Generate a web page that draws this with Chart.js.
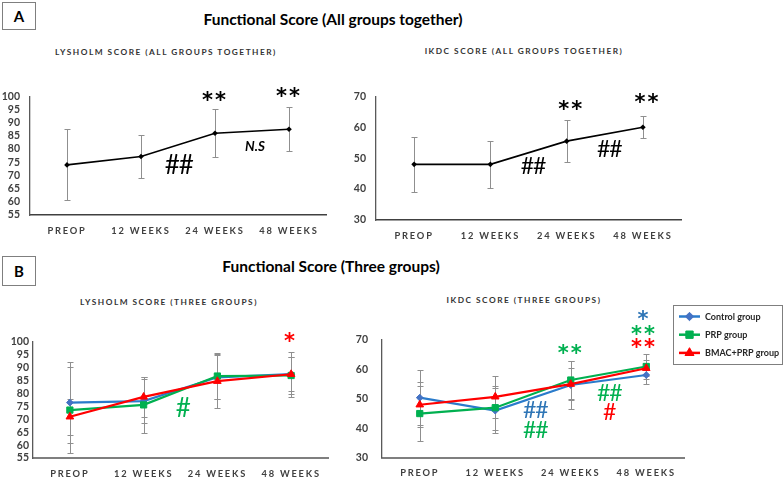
<!DOCTYPE html>
<html><head><meta charset="utf-8">
<script src="https://cdn.jsdelivr.net/npm/chart.js@4.4.0/dist/chart.umd.min.js"></script>
<style>
body{margin:0;background:#fff;}
#fig{position:relative;width:784px;height:478px;overflow:hidden;font-family:Lato,'Open Sans',sans-serif;background:#fff;}
.box{position:absolute;border:1px solid #7f7f7f;font-weight:bold;font-size:15px;line-height:1;display:flex;align-items:center;justify-content:center;box-sizing:border-box;color:#000;}
.title{position:absolute;font-weight:bold;font-size:15.5px;line-height:1;white-space:nowrap;transform:translateX(-50%);color:#000;}
.sub{position:absolute;font-weight:bold;font-size:8.3px;line-height:1;letter-spacing:1.5px;white-space:nowrap;transform:translateX(-50%);color:#333;}
.cw{position:absolute;}
</style></head>
<body>
<div id="fig">
  <div class="box" style="left:2px;top:2px;width:34px;height:28px;">A</div>
  <div class="title" style="left:333px;top:12px;">Functional Score (All groups together)</div>
  <div class="sub" style="left:166px;top:48px;">LYSHOLM SCORE (ALL GROUPS TOGETHER)</div>
  <div class="sub" style="left:524px;top:47px;">IKDC SCORE (ALL GROUPS TOGETHER)</div>
  <div class="box" style="left:2px;top:256px;width:34px;height:30px;">B</div>
  <div class="title" style="left:331px;top:259px;">Functional Score (Three groups)</div>
  <div class="sub" style="left:169px;top:298px;">LYSHOLM SCORE (THREE GROUPS)</div>
  <div class="sub" style="left:524px;top:296px;">IKDC SCORE (THREE GROUPS)</div>
  <div class="cw" style="left:0px;top:80px;"><canvas id="cA1" width="340" height="160"></canvas></div>
  <div class="cw" style="left:346px;top:80px;"><canvas id="cA2" width="346" height="165"></canvas></div>
  <div class="cw" style="left:0px;top:330px;"><canvas id="cB1" width="340" height="148"></canvas></div>
  <div class="cw" style="left:350px;top:300px;"><canvas id="cB2" width="434" height="178"></canvas></div>
</div>
<script>
// ---------------- DATA ----------------
const categories = ['PREOP', '12 WEEKS', '24 WEEKS', '48 WEEKS'];
const lysholmTicks = [55, 60, 65, 70, 75, 80, 85, 90, 95, 100];
const ikdcTicks = [30, 40, 50, 60, 70];

const lysholmAll = [74, 77.2, 86, 87.5];
const lysholmAllSD = [13.5, 8, 9, 8.3];
const ikdcAll = [48, 48, 55.5, 60];
const ikdcAllSD = [9, 7.5, 6.8, 3.6];

const groupNames = ['Control group', 'PRP group', 'BMAC+PRP group'];
const lysholmControl = [76.5, 77.1, 86.3, 87.5];
const lysholmControlSD = [15.7, 8.4, 8.6, 8.7];
const lysholmPRP = [73.6, 75.6, 86.8, 87];
const lysholmPRPSD = [16.7, 11, 9, 7.3];
const lysholmBMAC = [71, 78.7, 84.8, 87.5];
const lysholmBMACSD = [6.9, 7.8, 10.5, 6.5];
const ikdcControl = [50.4, 46, 54.7, 58.1];
const ikdcControlSD = [9.4, 7.6, 8, 3];
const ikdcPRP = [45, 47, 56.4, 61];
const ikdcPRPSD = [9.4, 7.5, 6.5, 4.2];
const ikdcBMAC = [48, 50.7, 55, 60.4];
const ikdcBMACSD = [7.7, 7.2, 5.5, 2.8];

// significance labels (text, category position, value position, group)
const notesLysholmAll = [['**', 2, 99.5], ['**', 3, 101], ['##', 1.51, 73.6], ['N.S', 2.54, 81]];
const notesIkdcAll = [['**', 2.06, 66.8], ['**', 3.06, 69], ['##', 1.56, 47.4], ['##', 2.56, 52.9]];
const notesLysholmGroups = [['#', 1.53, 74, 1], ['*', 2.99, 101.2, 2]];
const notesIkdcGroups = [['*', 2.97, 78.1, 0], ['**', 2.97, 73, 1], ['**', 2.97, 68.3, 2], ['**', 2.0, 66.3, 1],
  ['##', 1.53, 45.9, 0], ['##', 1.53, 39.2, 1], ['##', 2.51, 51.7, 1], ['#', 2.51, 45.3, 2]];

// ---------------- STYLE ----------------
const lineColors = ['#2A7BCB', '#00B050', '#FF0000'];
const noteColors = ['#2E75B6', '#00B050', '#FF0000'];
const markerColors = ['#4472C4', '#00B050', '#FF0000'];
const markerStyles = ['rectRot', 'rect', 'triangle'];
const markerRadius = [3.4, 4.4, 4.4];
const FONT = 'Lato, "Open Sans", sans-serif';
const STAR = '"DejaVu Sans", sans-serif';

const noteFont = (t, small) => {
  if (t === 'N.S') return {font: 'italic bold 13.5px ' + FONT, sp: '0px', dy: 0};
  if (t.indexOf('*') >= 0) return {font: 'bold 21px ' + STAR, sp: '2px', dy: 4};
  return {font: (small ? 23 : 26) + 'px ' + FONT, sp: '-1px', dy: 0};
};

const errorBars = {
  id: 'errorBars',
  beforeDatasetsDraw(chart, args, opts) {
    const ctx = chart.ctx, ys = chart.scales.y;
    ctx.save();
    ctx.strokeStyle = opts.color || '#8c8c8c';
    ctx.lineWidth = 1;
    const cap = opts.cap || 3;
    chart.data.datasets.forEach((ds, di) => {
      const meta = chart.getDatasetMeta(di);
      ds.sd.forEach((s, i) => {
        const px = Math.round(meta.data[i].x) + 0.5;
        const v = ds.data[i];
        const t = Math.round(ys.getPixelForValue(v + s)) + 0.5;
        const b = Math.round(ys.getPixelForValue(v - s)) + 0.5;
        ctx.beginPath();
        ctx.moveTo(px, t); ctx.lineTo(px, b);
        ctx.moveTo(px - cap, t); ctx.lineTo(px + cap, t);
        ctx.moveTo(px - cap, b); ctx.lineTo(px + cap, b);
        ctx.stroke();
      });
    });
    ctx.restore();
  }
};

const notes = {
  id: 'notes',
  afterDraw(chart, args, opts) {
    const ctx = chart.ctx, xs = chart.scales.x, ys = chart.scales.y;
    (opts.items || []).forEach(n => {
      const f = noteFont(n[0], opts.small);
      ctx.save();
      ctx.font = f.font;
      ctx.letterSpacing = f.sp;
      ctx.fillStyle = n.length > 3 ? noteColors[n[3]] : '#000';
      ctx.textAlign = 'center';
      ctx.textBaseline = 'middle';
      ctx.fillText(n[0], xs.getPixelForValue(n[1]), ys.getPixelForValue(n[2]) + f.dy);
      ctx.restore();
    });
  }
};

const spacedX = {
  id: 'spacedX',
  beforeDraw(chart) {
    const sc = chart.scales.x;
    if (sc && !sc._spaced) {
      const orig = sc.drawLabels;
      sc.drawLabels = function (area) {
        const c = this.ctx;
        const prev = c.letterSpacing;
        c.letterSpacing = '1.8px';
        orig.call(this, area);
        c.letterSpacing = prev;
      };
      sc._spaced = true;
    }
  }
};

const legendBox = {
  id: 'legendBox',
  afterDraw(chart, args, opts) {
    if (!opts.show) return;
    const ctx = chart.ctx;
    const ca = chart.chartArea;
    const bx = ca.right - 11, by = 5, bw = 109, bh = 59;
    ctx.save();
    ctx.strokeStyle = '#7f7f7f';
    ctx.lineWidth = 1;
    ctx.strokeRect(bx + 0.5, by + 0.5, bw, bh);
    chart.data.datasets.forEach((ds, i) => {
      const y = by + 11.5 + i * 18.2;
      ctx.strokeStyle = ds.borderColor;
      ctx.lineWidth = 2.5;
      ctx.beginPath();
      ctx.moveTo(bx + 6, y); ctx.lineTo(bx + 27, y);
      ctx.stroke();
      ctx.fillStyle = ds.pointBackgroundColor;
      ctx.strokeStyle = ds.pointBorderColor;
      ctx.lineWidth = 1;
      Chart.helpers.drawPoint(ctx, {pointStyle: ds.pointStyle, radius: ds.pointRadius + 0.8, rotation: 0, borderWidth: 1}, bx + 16.5, y);
      ctx.font = 'bold 9px ' + FONT;
      ctx.fillStyle = '#262626';
      ctx.textAlign = 'left';
      ctx.textBaseline = 'middle';
      ctx.fillText(ds.label, bx + 32, y + 0.5);
    });
    ctx.restore();
  }
};

function makeChart(id, sets, ticks, geom, noteItems, showLegend, single) {
  const datasets = sets.map((s, i) => single ? {
    label: s.label, data: s.data, sd: s.sd,
    borderColor: '#000', borderWidth: 1.6, pointStyle: 'rectRot', pointRadius: 2.8,
    pointBackgroundColor: '#000', pointBorderColor: '#000', pointBorderWidth: 0, tension: 0
  } : {
    label: s.label, data: s.data, sd: s.sd,
    borderColor: lineColors[i], borderWidth: 2.2, pointStyle: markerStyles[i], pointRadius: markerRadius[i],
    pointBackgroundColor: markerColors[i], pointBorderColor: markerColors[i], pointBorderWidth: 1,
    tension: 0, order: 2 - i
  });
  return new Chart(document.getElementById(id), {
    type: 'line',
    data: {labels: categories, datasets},
    options: {
      responsive: false, animation: false, devicePixelRatio: 1,
      layout: {padding: {top: geom.top, right: geom.right, left: 0, bottom: 0}},
      plugins: {
        legend: {display: false}, tooltip: {enabled: false}, title: {display: false},
        errorBars: {color: '#8f8f8f', cap: 3},
        notes: {items: noteItems, small: !!geom.smallNotes},
        legendBox: {show: showLegend}
      },
      scales: {
        x: {
          offset: true,
          grid: {display: false, drawTicks: false},
          border: {display: true, color: geom.xColor, width: geom.xWidth},
          ticks: {font: {family: FONT, weight: 'bold', size: 9.3}, color: '#404040', padding: 10, maxRotation: 0, autoSkip: false},
          afterFit: s => { s.height = geom.xh; }
        },
        y: {
          min: ticks[0], max: ticks[ticks.length - 1],
          grid: {display: false, drawTicks: false},
          border: {display: true, color: '#595959', width: 1.3},
          ticks: {stepSize: ticks[1] - ticks[0], autoSkip: false, font: {family: FONT, weight: 'bold', size: 10.5}, color: '#404040', padding: geom.yp},
          afterFit: s => { s.width = geom.yw; }
        }
      }
    },
    plugins: [errorBars, spacedX, notes, legendBox]
  });
}

makeChart('cA1', [{label: 'Lysholm', data: lysholmAll, sd: lysholmAllSD}], lysholmTicks,
  {top: 12, right: 14, xh: 25, yw: 30, yp: 10, xColor: '#404040', xWidth: 1.5}, notesLysholmAll, false, true);
makeChart('cA2', [{label: 'IKDC', data: ikdcAll, sd: ikdcAllSD}], ikdcTicks,
  {top: 16, right: 11, xh: 25, yw: 30, yp: 10, xColor: '#404040', xWidth: 1.5, smallNotes: true}, notesIkdcAll, false, true);
makeChart('cB1', [
  {label: groupNames[0], data: lysholmControl, sd: lysholmControlSD},
  {label: groupNames[1], data: lysholmPRP, sd: lysholmPRPSD},
  {label: groupNames[2], data: lysholmBMAC, sd: lysholmBMACSD}], lysholmTicks,
  {top: 12, right: 12, xh: 20, yw: 33, yp: 4, xColor: '#7f7f7f', xWidth: 2}, notesLysholmGroups, false, false);
makeChart('cB2', [
  {label: groupNames[0], data: ikdcControl, sd: ikdcControlSD},
  {label: groupNames[1], data: ikdcPRP, sd: ikdcPRPSD},
  {label: groupNames[2], data: ikdcBMAC, sd: ikdcBMACSD}], ikdcTicks,
  {top: 40, right: 100, xh: 20, yw: 32, yp: 14, xColor: '#7f7f7f', xWidth: 2, smallNotes: true}, notesIkdcGroups, true, false);
</script>
</body></html>
